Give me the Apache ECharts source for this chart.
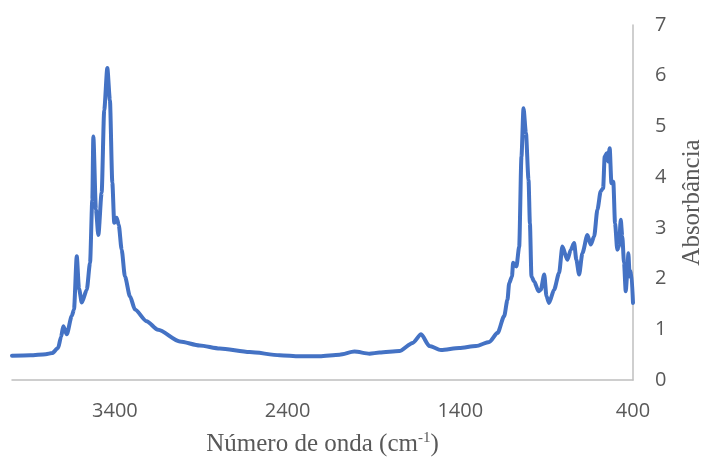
<!DOCTYPE html>
<html>
<head>
<meta charset="utf-8">
<script src="https://cdn.jsdelivr.net/npm/echarts@6/dist/echarts.min.js"></script>
<style>html,body{margin:0;padding:0;background:#fff}#c{width:705px;height:463px}</style>
</head>
<body>
<div id="c"></div>
<script>
var wavenumber = [3996, 3890, 3800, 3764, 3729, 3712, 3699, 3679, 3650, 3637, 3621, 3608, 3592, 3563, 3544, 3531, 3525, 3510, 3496, 3477, 3462, 3444, 3429, 3415, 3404, 3390, 3378, 3361, 3342, 3313, 3284, 3217, 3150, 3024, 2909, 2793, 2620, 2446, 2331, 2215, 2099, 2013, 1926, 1868, 1753, 1676, 1627, 1579, 1512, 1406, 1309, 1232, 1184, 1146, 1127, 1117, 1101, 1094, 1075, 1059, 1046, 1034, 1020, 1005, 997, 988, 972, 947, 934, 914, 901, 886, 857, 828, 809, 780, 760, 741, 728, 712, 693, 664, 645, 625, 606, 587, 573, 564, 552, 545, 535, 525, 514, 504, 491, 481, 471, 462, 452, 442, 433, 427, 419, 410, 400];
var absorbance = [0.48, 0.49, 0.51, 0.53, 0.63, 0.85, 1.06, 0.9, 1.26, 1.39, 2.44, 1.8, 1.53, 1.78, 2.31, 3.55, 4.8, 3.36, 2.86, 3.69, 5.32, 6.15, 5.52, 3.89, 3.1, 3.2, 3.06, 2.57, 2.04, 1.65, 1.39, 1.16, 0.99, 0.76, 0.68, 0.62, 0.55, 0.49, 0.47, 0.47, 0.5, 0.56, 0.52, 0.54, 0.57, 0.73, 0.9, 0.67, 0.59, 0.63, 0.67, 0.75, 0.93, 1.26, 1.58, 1.91, 2.04, 2.31, 2.24, 2.63, 4.4, 5.36, 4.87, 3.95, 3.09, 2.04, 1.94, 1.75, 1.78, 2.08, 1.65, 1.52, 1.78, 2.11, 2.63, 2.37, 2.57, 2.7, 2.37, 2.08, 2.5, 2.86, 2.67, 2.83, 3.36, 3.72, 3.78, 4.4, 4.47, 4.31, 4.57, 3.88, 3.91, 3.09, 2.57, 2.63, 3.16, 2.83, 2.31, 1.75, 2.11, 2.5, 2.04, 2.14, 1.52];
var xTicks = [400, 1400, 2400, 3400];
var yTicks = [0, 1, 2, 3, 4, 5, 6, 7];
var xTitle = 'Número de onda (cm';
var xTitleSup = '-1';
var yTitle = 'Absorbância';

var points = wavenumber.map(function (w, i) { return [w, absorbance[i]]; });
var chart = echarts.init(document.getElementById('c'), null, {renderer: 'canvas'});
var labelFont = {fontFamily: 'Open Sans', fontSize: 20, color: '#595959'};
chart.setOption({
  animation: false,
  grid: {left: 12, right: 72, top: 25, bottom: 83, containLabel: false, outerBoundsMode: 'none'},
  xAxis: {
    type: 'value', inverse: true, min: 400, max: 3996, interval: 1000,
    axisLine: {show: true, lineStyle: {color: '#BFBFBF', width: 1.5}},
    axisTick: {show: false}, splitLine: {show: false},
    axisLabel: Object.assign({margin: 21, showMaxLabel: false,
      formatter: function (v) { return xTicks.indexOf(v) >= 0 ? String(v) : ''; }}, labelFont),
    name: '{a|' + xTitle + '}{s|' + xTitleSup + '}{a|)}',
    nameLocation: 'middle', nameGap: 51,
    nameTextStyle: {
      rich: {
        a: {fontFamily: 'Liberation Serif', fontSize: 25, color: '#595959', lineHeight: 26, verticalAlign: 'bottom'},
        s: {fontFamily: 'Liberation Serif', fontSize: 15, color: '#595959', lineHeight: 26, verticalAlign: 'top', padding: [0, 0, 10, 0]}
      }
    }
  },
  yAxis: {
    type: 'value', position: 'right', min: 0, max: 7, interval: 1,
    axisLine: {show: true, lineStyle: {color: '#BFBFBF', width: 1.5}},
    axisTick: {show: false}, splitLine: {show: false},
    axisLabel: Object.assign({margin: 22,
      formatter: function (v) { return yTicks.indexOf(v) >= 0 ? String(v) : ''; }}, labelFont),
    name: yTitle, nameLocation: 'middle', nameGap: 47,
    nameTextStyle: {fontFamily: 'Liberation Serif', fontSize: 25, color: '#595959'}
  },
  series: [{
    type: 'line', data: points, showSymbol: false, smooth: 0.25, smoothMonotone: 'x',
    lineStyle: {color: '#4472C4', width: 4, join: 'round', cap: 'round'},
    itemStyle: {color: '#4472C4'}
  }]
});
</script>
</body>
</html>
